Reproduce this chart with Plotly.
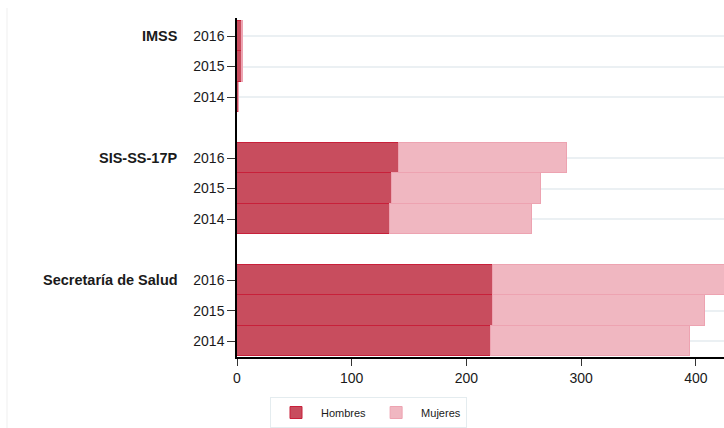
import plotly.graph_objects as go

institutions = ["IMSS", "SIS-SS-17P", "Secretaría de Salud"]
years = ["2016", "2015", "2014"]
hombres = {
    "IMSS": [4, 4, 1.5],
    "SIS-SS-17P": [141, 135, 133],
    "Secretaría de Salud": [223, 223, 221],
}
mujeres = {
    "IMSS": [1.5, 0.8, 0],
    "SIS-SS-17P": [147, 130, 124],
    "Secretaría de Salud": [210, 185, 174],
}

# row positions (one empty slot between groups)
ypos, ylab, h_vals, m_vals = [], [], [], []
for gi, inst in enumerate(institutions):
    for yi, yr in enumerate(years):
        ypos.append(gi * 4 + yi)
        ylab.append(yr)
        h_vals.append(hombres[inst][yi])
        m_vals.append(mujeres[inst][yi])

font = "Liberation Sans, Arial, sans-serif"
fig = go.Figure()
fig.add_trace(go.Bar(
    y=ypos, x=h_vals, orientation="h", name="Hombres",
    marker=dict(color="#c84d5e", line=dict(color="#c8203a", width=1)),
))
fig.add_trace(go.Bar(
    y=ypos, x=m_vals, orientation="h", name="Mujeres",
    marker=dict(color="#f0b7c1", line=dict(color="#eda3b1", width=1)),
))

for gi, inst in enumerate(institutions):
    fig.add_annotation(
        x=0, xref="paper", y=gi * 4, yref="y", text="<b>" + inst + "</b>",
        showarrow=False, xanchor="right", xshift=-57,
        font=dict(family=font, size=14.5, color="#1a1a1a"),
    )

fig.add_shape(type="line", xref="paper", yref="paper",
              x0=-230/487, x1=-230/487, y0=(357-8)/339, y1=-71/339,
              line=dict(color="#efefef", width=1))

fig.update_layout(
    width=724, height=428,
    margin=dict(l=237, r=0, t=18, b=71, autoexpand=False),
    barmode="stack", bargap=0,
    plot_bgcolor="white", paper_bgcolor="white",
    font=dict(family=font, size=14, color="#1a1a1a"),
    xaxis=dict(range=[0, 424.5], tickvals=[0, 100, 200, 300, 400],
               showgrid=False, zeroline=False, showline=True,
               linecolor="#000", linewidth=1.5, ticks="outside",
               ticklen=7, tickcolor="#333", tickfont=dict(size=14),
               automargin=False),
    yaxis=dict(range=[10.52, -0.59], tickvals=ypos, ticktext=ylab,
               showgrid=True, gridcolor="#ebf0f3", gridwidth=2,
               zeroline=False, showline=True, linecolor="#000",
               linewidth=1.5, ticks="outside", ticklen=8,
               tickcolor="#333", tickfont=dict(size=14),
               automargin=False),
    legend=dict(orientation="h", x=33/487, y=-40/339, xanchor="left",
                yanchor="top", bordercolor="#e4ecef", borderwidth=1,
                font=dict(size=11), itemwidth=40,
                traceorder="normal"),
    showlegend=True,
)
post = ("document.body.style.margin='0';"
        "document.body.style.overflow='hidden';"
        "document.documentElement.style.overflow='hidden';")
fig.write_html("out.html", post_script=post,
               config={"displayModeBar": False})
